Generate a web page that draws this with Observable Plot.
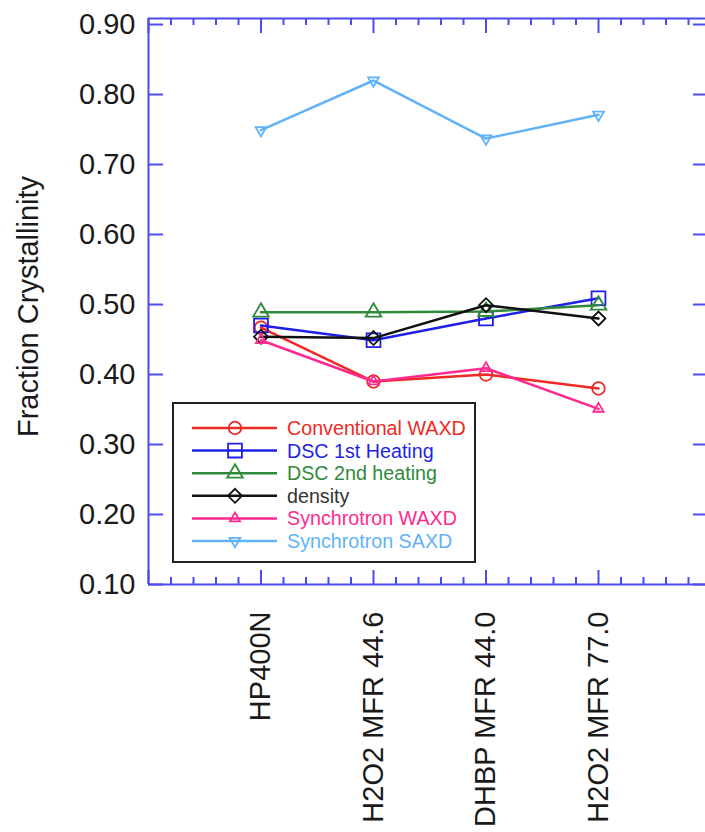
<!DOCTYPE html>
<html><head><meta charset="utf-8">
<script src="https://cdn.jsdelivr.net/npm/d3@7"></script>
<script src="https://cdn.jsdelivr.net/npm/@observablehq/plot@0.6"></script>
<style>
body{margin:0;background:#fff;font-family:"Liberation Sans",Arial,sans-serif;}
#wrap{position:relative;width:705px;height:832px;overflow:hidden;background:#fff;}
</style></head><body><div id="wrap"></div>
<script>
// ---- data ----
const categories = ["HP400N", "H2O2 MFR 44.6", "DHBP MFR 44.0", "H2O2 MFR 77.0"];
const seriesNames = ["Conventional WAXD", "DSC 1st Heating", "DSC 2nd heating", "density", "Synchrotron WAXD", "Synchrotron SAXD"];
const conventionalWAXD = [0.467, 0.390, 0.400, 0.380];
const dsc1stHeating   = [0.470, 0.449, 0.480, 0.509];
const dsc2ndHeating   = [0.489, 0.489, 0.490, 0.499];
const densityValues   = [0.454, 0.452, 0.499, 0.480];
const synchrotronWAXD = [0.449, 0.390, 0.409, 0.351];
const synchrotronSAXD = [0.749, 0.820, 0.737, 0.771];
const yTickValues = [0.10, 0.20, 0.30, 0.40, 0.50, 0.60, 0.70, 0.80, 0.90];
const yTitle = "Fraction Crystallinity";

// ---- styles ----
const seriesValues = [conventionalWAXD, dsc1stHeating, dsc2ndHeating, densityValues, synchrotronWAXD, synchrotronSAXD];
const seriesColors = ["#ee2a24", "#1f1fe6", "#2f8a3a", "#111111", "#ff2a90", "#62b2f8"];
const seriesSymbols = ["circle", "square", "triangle", "diamond2", "triangle", "triangle"];
const seriesR = [6.3, 7.8, 5.8, 6.3, 3.8, 4.0];
const seriesRotate = [0, 0, 0, 0, 0, 180];

const rows = [];
seriesNames.forEach((s, si) => seriesValues[si].forEach((v, i) => rows.push({series: s, idx: i + 1, value: v})));

const W = 705, H = 832, ML = 148, MT = 18, MB = 248, MR = 0;
const frameW = W - ML - MR, frameH = H - MT - MB;
const AX = "#4b4bef";
const xMinor = d3.range(0, 25).map(i => i / 5).filter(v => v % 1 !== 0);
const xMajor = d3.range(0, 5);

const marks = [
  Plot.ruleX([0], {stroke: AX, strokeWidth: 2}),
  Plot.ruleY([0.1], {stroke: AX, strokeWidth: 2}),
  Plot.ruleY([0.9086], {stroke: AX, strokeWidth: 2}),
  Plot.tickY(yTickValues, {y: d => d, stroke: AX, strokeWidth: 2, insetRight: frameW - 15}),
  Plot.tickY(yTickValues, {y: d => d, stroke: AX, strokeWidth: 2, insetLeft: frameW - 12}),
  Plot.tickX(xMinor, {x: d => d, stroke: AX, strokeWidth: 2, insetBottom: frameH - 7}),
  Plot.tickX(xMajor, {x: d => d, stroke: AX, strokeWidth: 2, insetBottom: frameH - 15}),
  Plot.tickX(xMinor, {x: d => d, stroke: AX, strokeWidth: 2, insetTop: frameH - 7}),
  Plot.tickX(xMajor, {x: d => d, stroke: AX, strokeWidth: 2, insetTop: frameH - 14}),
  Plot.axisY(yTickValues, {tickSize: 0, tickPadding: 13, tickFormat: d => d.toFixed(2), fontSize: 29, fill: "#1a1a1a", label: null}),
  Plot.axisX([1, 2, 3, 4], {tickSize: 0, tickPadding: 27, tickRotate: -90, tickFormat: d => categories[d - 1], fontSize: 29, fill: "#1a1a1a", label: null}),
  Plot.text([yTitle], {text: d => d, frameAnchor: "left", textAnchor: "middle", rotate: -90, dx: -120, dy: 5, fontSize: 29, fill: "#1a1a1a"})
];

seriesNames.forEach((s, si) => {
  const data = rows.filter(r => r.series === s);
  marks.push(Plot.line(data, {x: "idx", y: "value", stroke: seriesColors[si], strokeWidth: 2.5}));
  marks.push(Plot.dot(data, {x: "idx", y: "value", symbol: seriesSymbols[si], r: seriesR[si], rotate: seriesRotate[si], stroke: seriesColors[si], strokeWidth: 1.8, fill: "none"}));
});

const chart = Plot.plot({
  width: W, height: H,
  marginLeft: ML, marginTop: MT, marginBottom: MB, marginRight: MR,
  x: {domain: [0, 5], range: [ML, ML + 5 * 112.5]},
  y: {domain: [0.1, 0.9086]},
  style: {fontFamily: "'Liberation Sans', Arial, sans-serif", background: "white", overflow: "hidden"},
  marks
});
document.getElementById("wrap").appendChild(chart);

// ---- legend ----
const lg = d3.select("#wrap").append("svg")
  .attr("width", 304).attr("height", 161)
  .style("position", "absolute").style("left", "172px").style("top", "402px");
lg.append("rect").attr("x", 1).attr("y", 1).attr("width", 302).attr("height", 159)
  .attr("fill", "white").attr("stroke", "#222").attr("stroke-width", 2);
const symMap = {circle: d3.symbolCircle, square: d3.symbolSquare, triangle: d3.symbolTriangle, diamond2: d3.symbolDiamond2};
seriesNames.forEach((s, i) => {
  const cy = 26 + i * 22.6;
  const g = lg.append("g");
  g.append("line").attr("x1", 20).attr("x2", 105).attr("y1", cy).attr("y2", cy)
    .attr("stroke", seriesColors[i]).attr("stroke-width", 2.5);
  g.append("path")
    .attr("d", d3.symbol().type(symMap[seriesSymbols[i]]).size(Math.PI * seriesR[i] * seriesR[i])())
    .attr("transform", `translate(63,${cy}) rotate(${seriesRotate[i]})`)
    .attr("fill", "none").attr("stroke", seriesColors[i]).attr("stroke-width", 1.8);
  g.append("text").attr("x", 115).attr("y", cy).attr("dy", "0.36em")
    .attr("font-size", 19.7).attr("fill", i === 3 ? "#333" : seriesColors[i])
    .style("font-family", "'Liberation Sans', Arial, sans-serif")
    .text(s);
});
</script></body></html>
